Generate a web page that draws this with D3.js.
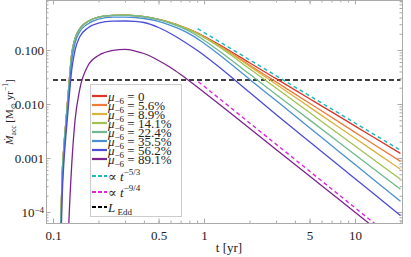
<!DOCTYPE html>
<html>
<head>
<meta charset="utf-8">
<script src="https://cdn.jsdelivr.net/npm/d3@7"></script>
<style>
body { margin: 0; background: #fff; }
svg { display: block; }
text { font-family: "Liberation Serif", "DejaVu Serif", serif; fill: #222; }
</style>
</head>
<body>
<svg width="411" height="257"></svg>
<script>
// time grid [yr]
var times = [0.110, 0.113, 0.115, 0.118, 0.122, 0.127, 0.133, 0.14, 0.15, 0.17, 0.2, 0.25, 0.3, 0.35,
             0.4, 0.5, 0.6, 0.7, 0.85, 1, 1.3, 2, 3, 5, 8, 12, 20];

// accretion rate [Msun/yr] for each mu_-6
var mu00 = [1.29e-5, 8.8e-5, 4.84e-4, 1.6e-3, 5.06e-3, 0.0198, 0.0843, 0.163, 0.245, 0.337, 0.408, 0.439, 0.443, 0.432,
            0.414, 0.369, 0.320, 0.278, 0.224, 0.180, 0.120, 0.0582, 0.0295, 0.01254, 5.70e-3, 2.88e-3, 1.22e-3];
var mu56 = [1.29e-5, 8.8e-5, 4.84e-4, 1.6e-3, 5.06e-3, 0.0198, 0.0843, 0.163, 0.245, 0.337, 0.408, 0.439, 0.443, 0.432,
            0.414, 0.369, 0.320, 0.278, 0.223, 0.1763, 0.1141, 0.0528, 0.02566, 0.01031, 4.47e-3, 2.15e-3, 8.69e-4];
var mu89 = [1.29e-5, 8.8e-5, 4.84e-4, 1.6e-3, 5.06e-3, 0.0198, 0.0843, 0.163, 0.245, 0.337, 0.408, 0.439, 0.443, 0.432,
            0.414, 0.369, 0.320, 0.2771, 0.2215, 0.1741, 0.1122, 0.0503, 0.02327, 8.76e-3, 3.56e-3, 1.64e-3, 6.17e-4];
var mu141 = [1.29e-5, 8.8e-5, 4.84e-4, 1.6e-3, 5.06e-3, 0.0198, 0.0843, 0.163, 0.245, 0.337, 0.408, 0.439, 0.443, 0.432,
             0.414, 0.369, 0.3176, 0.2729, 0.2164, 0.1704, 0.1075, 0.04505, 0.01979, 6.93e-3, 2.64e-3, 1.151e-3, 4.03e-4];
var mu224 = [1.29e-5, 8.8e-5, 4.84e-4, 1.6e-3, 5.06e-3, 0.0198, 0.0843, 0.163, 0.245, 0.337, 0.408, 0.439, 0.443, 0.432,
             0.414, 0.3656, 0.3122, 0.2644, 0.2021, 0.1519, 0.0899, 0.03578, 0.01505, 5.08e-3, 1.864e-3, 7.84e-4, 2.63e-4];
var mu355 = [6.8e-6, 5.05e-5, 3.03e-4, 1.137e-3, 3.75e-3, 0.01468, 0.0626, 0.1348, 0.2154, 0.3031, 0.375, 0.405, 0.4067, 0.3997,
             0.3831, 0.3386, 0.2867, 0.2406, 0.1809, 0.1336, 0.0764, 0.02879, 0.01156, 3.64e-3, 1.253e-3, 5.01e-4, 1.578e-4];
var mu562 = [3.6e-6, 3.03e-5, 1.896e-4, 8.08e-4, 2.78e-3, 0.01043, 0.04262, 0.1, 0.1741, 0.2555, 0.3162, 0.3415, 0.3444, 0.34,
             0.323, 0.261, 0.2021, 0.1565, 0.1098, 0.0801, 0.04486, 0.01647, 6.39e-3, 1.995e-3, 6.87e-4, 2.75e-4, 8.61e-5];
var mu891 = [1e-6, 1e-6, 1e-6, 1e-6, 1e-6, 5.05e-5, 7.42e-4, 5.05e-3, 0.01816, 0.05055, 0.0791, 0.0987, 0.103, 0.0958,
             0.0861, 0.0639, 0.0474, 0.03517, 0.02346, 0.01647, 9.26e-3, 3.55e-3, 1.443e-3, 4.64e-4, 1.626e-4, 6.61e-5, 2.13e-5];

var muLabels = ["0", "5.6%", "8.9%", "14.1%", "22.4%", "35.5%", "56.2%", "89.1%"];

// power-law guides and Eddington limit (end points)
var slope53T = [0.908, 19.86], slope53V = [0.248, 1.41e-3];
var slope94T = [0.917, 20], slope94V = [0.0259, 2.52e-5];
var eddT = [0.1, 20], eddV = [0.0278, 0.0278];

var xMajor = [0.1, 0.5, 1, 5, 10];
var yMajor = [0.1, 0.01, 0.001, 1e-4];

var colors = ["#dc3427", "#ef7b3b", "#dbb23d", "#a0c254", "#6dba8e", "#4a8fd3", "#4b4cd7", "#7c238f"];

var svg = d3.select("svg");
var pL = 46, pR = 402, pT = 0, pB = 223;

var x = d3.scaleLog().domain([0.08986, 20.48]).range([pL, pR]);
var y = d3.scaleLog().domain([6.254e-5, 0.8434]).range([pB, pT]);

svg.append("clipPath").attr("id", "clip")
  .append("rect").attr("x", pL).attr("y", pT).attr("width", pR - pL).attr("height", pB - pT);

// minor ticks
var xMinor = [];
[0.1, 1, 10].forEach(function(d) { for (var k = 1; k < 10; k++) if (d * k <= 20.4 && d * k >= 0.09) xMinor.push(d * k); });
var yMinor = [];
[1e-5, 1e-4, 1e-3, 1e-2, 1e-1].forEach(function(d) { for (var k = 1; k < 10; k++) if (d * k >= 6.3e-5 && d * k <= 0.84) yMinor.push(d * k); });

function frame(axis, tr, ticks, size) {
  var g = svg.append("g").attr("transform", tr)
    .call(axis.tickValues(ticks).tickSize(size).tickFormat(""));
  g.selectAll("line").attr("stroke", "#aaa");
  g.select(".domain").attr("stroke", "#aaa");
  return g;
}
frame(d3.axisBottom(x), "translate(0," + pB + ")", xMinor, -2.5);
frame(d3.axisTop(x), "translate(0," + pT + ")", xMinor, -2.5);
frame(d3.axisLeft(y), "translate(" + pL + ",0)", yMinor, -2.5);
frame(d3.axisRight(y), "translate(" + pR + ",0)", yMinor, -2.5);
frame(d3.axisTop(x), "translate(0," + pT + ")", xMajor, -4.5);
frame(d3.axisRight(y), "translate(" + pR + ",0)", yMajor, -4.5);

var gx = svg.append("g").attr("transform", "translate(0," + pB + ")")
  .call(d3.axisBottom(x).tickValues(xMajor).tickSize(-4.5).tickPadding(8).tickFormat(d3.format("")));
var gy = svg.append("g").attr("transform", "translate(" + pL + ",0)")
  .call(d3.axisLeft(y).tickValues(yMajor).tickSize(-4.5).tickPadding(2)
    .tickFormat(function(d) { return d >= 0.001 ? d.toFixed(3) : ""; }));
[gx, gy].forEach(function(g) {
  g.selectAll("line").attr("stroke", "#aaa");
  g.select(".domain").attr("stroke", "#aaa");
  g.selectAll("text").attr("font-size", 13).attr("font-family", "Liberation Serif").attr("fill", "#222");
});
// 10^-4 label
var t4 = gy.selectAll(".tick").filter(function(d) { return d < 0.001; }).select("text");
t4.append("tspan").text("10");
t4.append("tspan").attr("font-size", 9).attr("dy", "-0.45em").text("\u22124");

// curves
var line = d3.line()
  .x(function(d) { return x(d[0]); })
  .y(function(d) { return y(d[1]); })
  .curve(d3.curveMonotoneX);

var series = [mu00, mu56, mu89, mu141, mu224, mu355, mu562, mu891];
var plot = svg.append("g").attr("clip-path", "url(#clip)");

plot.append("path")
  .attr("d", line(d3.zip(eddT, eddV)))
  .attr("fill", "none").attr("stroke", "#000").attr("stroke-width", 1.4).attr("stroke-dasharray", "5,3");

series.forEach(function(s, i) {
  plot.append("path")
    .attr("d", line(d3.zip(times, s)))
    .attr("fill", "none").attr("stroke", colors[i]).attr("stroke-width", 1.3);
});

plot.append("path")
  .attr("d", line(d3.zip(slope53T, slope53V)))
  .attr("fill", "none").attr("stroke", "#1db6c0").attr("stroke-width", 1.4).attr("stroke-dasharray", "4,3");
plot.append("path")
  .attr("d", line(d3.zip(slope94T, slope94V)))
  .attr("fill", "none").attr("stroke", "#e024e0").attr("stroke-width", 1.4).attr("stroke-dasharray", "4,3");

// legend
var lg = svg.append("g");
lg.append("rect").attr("x", 90.5).attr("y", 84.5).attr("width", 91).attr("height", 132)
  .attr("fill", "#fff").attr("stroke", "#ccc");

var rowY = [96, 105, 114, 123, 132, 141, 150, 159, 176, 192, 207];
muLabels.forEach(function(m, i) {
  lg.append("line").attr("x1", 92).attr("x2", 107).attr("y1", rowY[i]).attr("y2", rowY[i])
    .attr("stroke", colors[i]).attr("stroke-width", 2.2);
  var t = lg.append("text").attr("x", 108).attr("y", rowY[i] + 4.5).attr("font-size", 13);
  t.append("tspan").attr("font-style", "italic").text("\u03bc");
  t.append("tspan").attr("font-size", 9).attr("dy", 3).text("\u22126");
  t.append("tspan").attr("dy", -3).text(" = " + m);
});
var extra = [["#1db6c0", "\u22125/3"], ["#e024e0", "\u22129/4"]];
extra.forEach(function(e, j) {
  var yy = rowY[8 + j];
  lg.append("line").attr("x1", 92).attr("x2", 107).attr("y1", yy).attr("y2", yy)
    .attr("stroke", e[0]).attr("stroke-width", 2.2).attr("stroke-dasharray", "4,2");
  var t = lg.append("text").attr("x", 108).attr("y", yy + 4.5).attr("font-size", 13);
  t.append("tspan").text("\u221d ");
  t.append("tspan").attr("font-style", "italic").text("t");
  t.append("tspan").attr("font-size", 9).attr("dy", -6).text(e[1]);
});
lg.append("line").attr("x1", 92).attr("x2", 107).attr("y1", rowY[10]).attr("y2", rowY[10])
  .attr("stroke", "#000").attr("stroke-width", 2.2).attr("stroke-dasharray", "4,2");
var te = lg.append("text").attr("x", 108).attr("y", rowY[10] + 4.5).attr("font-size", 13);
te.append("tspan").attr("font-style", "italic").text("L");
te.append("tspan").attr("font-size", 9).attr("dy", 3).text(" Edd");

// axis labels
svg.append("text").attr("x", 229).attr("y", 252).attr("text-anchor", "middle").attr("font-size", 13)
  .text("t [yr]");
var yl = svg.append("text").attr("transform", "translate(13,112) rotate(-90)")
  .attr("text-anchor", "middle").attr("font-size", 11);
yl.append("tspan").attr("font-style", "italic").text("\u1e40");
yl.append("tspan").attr("font-size", 7.5).attr("dy", 3).text("acc");
yl.append("tspan").attr("dy", -3).text(" [M");
yl.append("tspan").attr("font-size", 7.5).attr("dy", 3).text("\u2299");
yl.append("tspan").attr("dy", -3).text(" yr");
yl.append("tspan").attr("font-size", 7.5).attr("dy", -5).text("\u22121");
yl.append("tspan").attr("dy", 5).text("]");
</script>
</body>
</html>
